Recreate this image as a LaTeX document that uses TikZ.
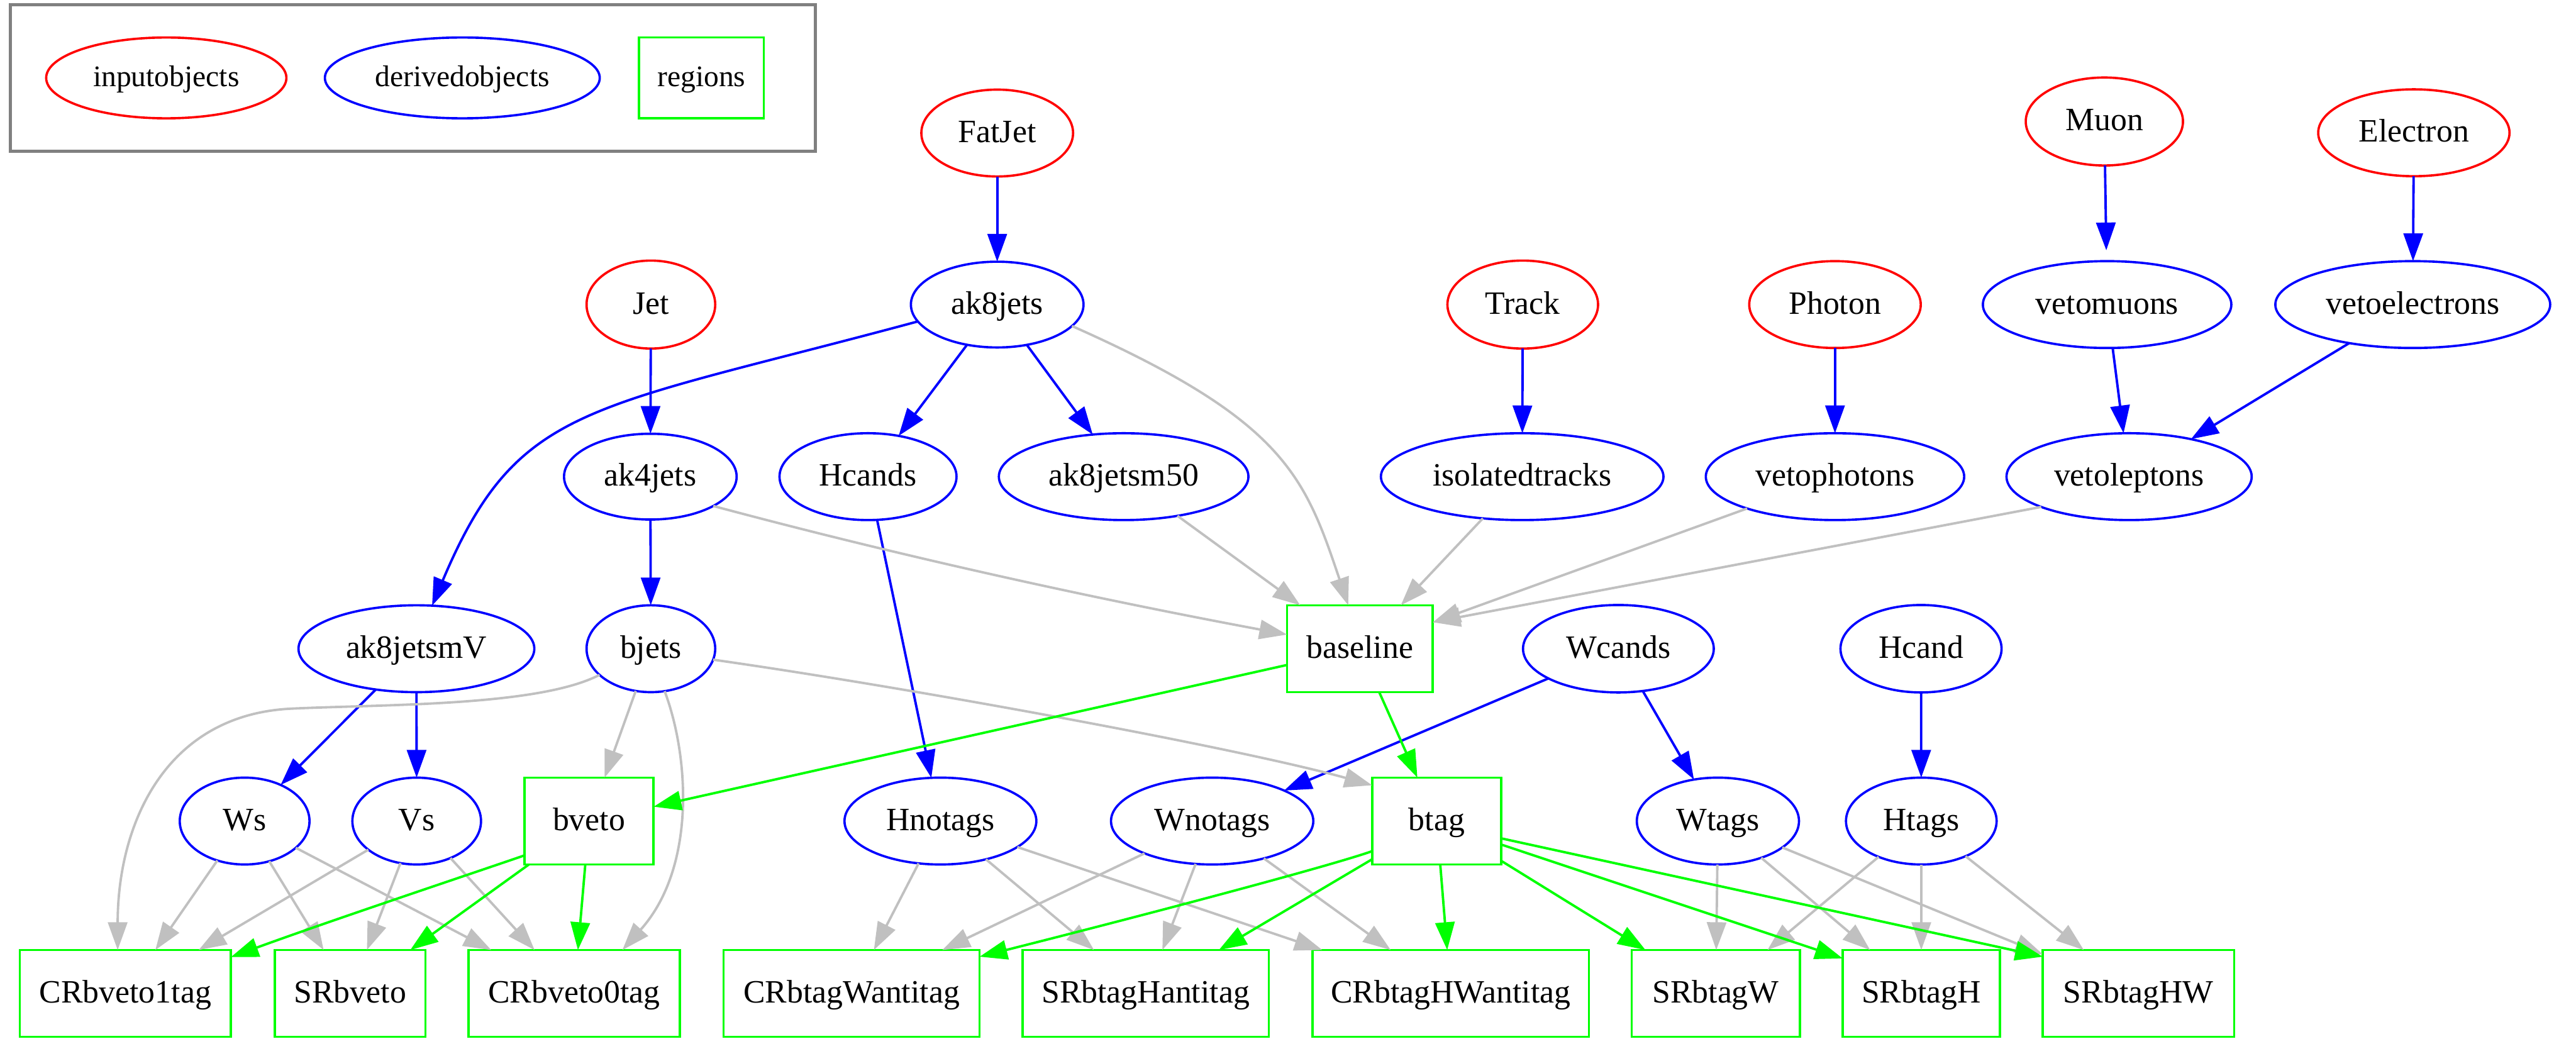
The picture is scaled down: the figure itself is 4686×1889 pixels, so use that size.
\documentclass[tikz,border=0pt]{standalone}
\usepackage{fontspec}
\setmainfont{Liberation Serif}
\usetikzlibrary{shapes.geometric,arrows.meta}
\definecolor{gvred}{RGB}{255,0,0}
\definecolor{gvblue}{RGB}{0,0,255}
\definecolor{gvgreen}{RGB}{0,255,0}
\definecolor{gvgray}{RGB}{192,192,192}
\definecolor{legendgray}{RGB}{128,128,128}
\begin{document}
\begin{tikzpicture}[x=0.228pt,y=-0.228pt,
  lab/.style={font=\fontsize{13.5}{16}\selectfont, text height=10.5pt, text depth=2.8pt},
  leglab/.style={font=\fontsize{12.4}{15}\selectfont, text height=9.6pt, text depth=2.6pt},
  shp/.style={inner sep=0pt, outer sep=0pt, line width=0.95pt},
  inobj/.style 2 args={shp, lab, ellipse, draw=gvred, minimum width={#1*0.456pt}, minimum height={#2*0.456pt}},
  derobj/.style 2 args={shp, lab, ellipse, draw=gvblue, minimum width={#1*0.456pt}, minimum height={#2*0.456pt}},
  region/.style 2 args={shp, lab, rectangle, draw=gvgreen, minimum width={#1*0.456pt}, minimum height={#2*0.456pt}},
  gvhead/.style={-{Triangle[length=11.5pt,width=8pt]}},
  eblue/.style={draw=gvblue, line width=1pt, gvhead},
  egray/.style={draw=gvgray, line width=1pt, gvhead},
  egreen/.style={draw=gvgreen, line width=1pt, gvhead}]
\useasboundingbox (0,0) rectangle (4686,1889);

% legend
\node[shp, draw=legendgray, line width=1.3pt, minimum width={1464*0.228pt}, minimum height={266.7*0.228pt}] (legendbox) at (751,141.7) {};
\node[inobj={218.5}{73.5}, leglab] (Linput) at (302.5,141.7) {inputobjects};
\node[derobj={250}{73.5}, leglab] (Lderived) at (841,141.7) {derivedobjects};
\node[region={113.5}{73.5}, leglab] (Lregions) at (1276,141.7) {regions};

% input objects
\node[inobj={138}{79}] (FatJet) at (1814,242) {FatJet};
\node[inobj={143}{80}] (Muon) at (3828,221) {Muon};
\node[inobj={174}{79}] (Electron) at (4391,241.5) {Electron};
\node[inobj={117}{80}] (Jet) at (1184,554) {Jet};
\node[inobj={137}{80}] (Track) at (2770,554) {Track};
\node[inobj={156}{79}] (Photon) at (3338,554) {Photon};

% derived objects
\node[derobj={157}{78}] (ak8jets) at (1814,554) {ak8jets};
\node[derobj={226}{79}] (vetomuons) at (3833,554) {vetomuons};
\node[derobj={250}{79}] (vetoelectrons) at (4389,554) {vetoelectrons};
\node[derobj={157}{78}] (ak4jets) at (1183,867) {ak4jets};
\node[derobj={161}{79}] (Hcands) at (1579,867) {Hcands};
\node[derobj={227}{79}] (ak8jetsm50) at (2044,867) {ak8jetsm50};
\node[derobj={257}{79}] (isolatedtracks) at (2769,867) {isolatedtracks};
\node[derobj={235}{79}] (vetophotons) at (3338,867) {vetophotons};
\node[derobj={223}{79}] (vetoleptons) at (3873,867) {vetoleptons};
\node[derobj={214.5}{79}] (ak8jetsmV) at (757.5,1180) {ak8jetsmV};
\node[derobj={117}{79}] (bjets) at (1184,1180) {bjets};
\node[derobj={173.5}{79.5}] (Wcands) at (2944,1180) {Wcands};
\node[derobj={146.5}{79.5}] (Hcand) at (3494.5,1180) {Hcand};
\node[derobj={118}{79}] (Ws) at (445,1493.5) {Ws};
\node[derobj={117}{79}] (Vs) at (758,1493.5) {Vs};
\node[derobj={174.5}{79}] (Hnotags) at (1710.7,1493.5) {Hnotags};
\node[derobj={184}{79}] (Wnotags) at (2205,1493.5) {Wnotags};
\node[derobj={147.5}{79}] (Wtags) at (3125,1493.5) {Wtags};
\node[derobj={137}{79}] (Htags) at (3495,1493.5) {Htags};

% regions
\node[region={132.5}{79}] (baseline) at (2473.7,1180) {baseline};
\node[region={117.5}{79}] (bveto) at (1071.5,1493.5) {bveto};
\node[region={117.5}{79}] (btag) at (2613.5,1493.5) {btag};
\node[region={192}{79}] (CRbveto1tag) at (228,1807) {CRbveto1tag};
\node[region={137}{79}] (SRbveto) at (637,1807) {SRbveto};
\node[region={192.5}{79}] (CRbveto0tag) at (1044.5,1807) {CRbveto0tag};
\node[region={233}{79}] (CRbtagWantitag) at (1549,1807) {CRbtagWantitag};
\node[region={224}{79}] (SRbtagHantitag) at (2084,1807) {SRbtagHantitag};
\node[region={251.5}{79}] (CRbtagHWantitag) at (2639,1807) {CRbtagHWantitag};
\node[region={153}{79}] (SRbtagW) at (3121,1807) {SRbtagW};
\node[region={143}{79}] (SRbtagH) at (3495,1807) {SRbtagH};
\node[region={174}{79}] (SRbtagHW) at (3890,1807) {SRbtagHW};

% blue edges
\draw[eblue] (FatJet) -- (ak8jets);
\draw[eblue] (Jet) -- (ak4jets);
\draw[eblue] (ak8jets) -- (Hcands);
\draw[eblue] (ak8jets) -- (ak8jetsm50);
\draw[eblue] (ak8jets.-168) .. controls (1064,748) and (942,733) .. (ak8jetsmV.70);
\draw[eblue] (ak4jets) -- (bjets);
\draw[eblue] (Track) -- (isolatedtracks);
\draw[eblue] (Photon) -- (vetophotons);
\draw[eblue, shorten >=4.5pt] (Muon) -- (vetomuons);
\draw[eblue] (Electron) -- (vetoelectrons);
\draw[eblue] (vetomuons) -- (vetoleptons);
\draw[eblue] (vetoelectrons) -- (vetoleptons);
\draw[eblue] (Hcands) -- (Hnotags);
\draw[eblue] (ak8jetsmV) -- (Ws);
\draw[eblue] (ak8jetsmV) -- (Vs);
\draw[eblue] (Wcands) -- (Wnotags);
\draw[eblue] (Wcands) -- (Wtags);
\draw[eblue] (Hcand) -- (Htags);

% gray edges
\draw[egray] (ak8jets.-16) .. controls (2335,764) and (2373,864) .. (baseline.105);
\draw[egray] (ak4jets.-25) .. controls (1651,1015) and (1997,1090) .. (baseline.169);
\draw[egray] (ak8jetsm50) -- (baseline);
\draw[egray] (isolatedtracks) -- (baseline);
\draw[egray] (vetophotons) -- (baseline);
\draw[egray] (vetoleptons.-161) -- (baseline.20);
\draw[egray] (bjets) -- (bveto);
\draw[egray] (bjets.-10) .. controls (1650,1250) and (2250,1360) .. (btag.151);
\draw[egray] (bjets.-153) .. controls (980,1285) and (700,1281) .. (530,1289) .. controls (300,1300) and (214,1500) .. (CRbveto1tag.100);
\draw[egray] (bjets.-72) .. controls (1255,1380) and (1265,1580) .. (CRbveto0tag.42);
\draw[egray] (Ws) -- (CRbveto1tag);
\draw[egray] (Ws) -- (SRbveto);
\draw[egray] (Ws) -- (CRbveto0tag);
\draw[egray] (Vs) -- (CRbveto1tag);
\draw[egray] (Vs) -- (SRbveto);
\draw[egray] (Vs) -- (CRbveto0tag);
\draw[egray] (Hnotags) -- (CRbtagWantitag);
\draw[egray] (Hnotags) -- (SRbtagHantitag);
\draw[egray] (Hnotags) -- (CRbtagHWantitag);
\draw[egray] (Wnotags) -- (CRbtagWantitag);
\draw[egray] (Wnotags) -- (SRbtagHantitag);
\draw[egray] (Wnotags) -- (CRbtagHWantitag);
\draw[egray] (Wtags) -- (SRbtagW);
\draw[egray] (Wtags) -- (SRbtagH);
\draw[egray] (Wtags) -- (SRbtagHW);
\draw[egray] (Htags) -- (SRbtagW);
\draw[egray] (Htags) -- (SRbtagH);
\draw[egray] (Htags) -- (SRbtagHW);

% green edges
\draw[egreen] (baseline) -- (bveto);
\draw[egreen] (baseline) -- (btag);
\draw[egreen] (bveto.-152) .. controls (870,1585) and (600,1675) .. (CRbveto1tag.19);
\draw[egreen] (bveto) -- (SRbveto);
\draw[egreen] (bveto) -- (CRbveto0tag);
\draw[egreen] (btag.-155) .. controls (2420,1575) and (2100,1660) .. (CRbtagWantitag.16);
\draw[egreen] (btag) -- (SRbtagHantitag);
\draw[egreen] (btag) -- (CRbtagHWantitag);
\draw[egreen] (btag) -- (SRbtagW);
\draw[egreen] (btag.-20) -- (SRbtagH.156);
\draw[egreen] (btag.-15) -- (SRbtagHW.159);
\end{tikzpicture}
\end{document}
